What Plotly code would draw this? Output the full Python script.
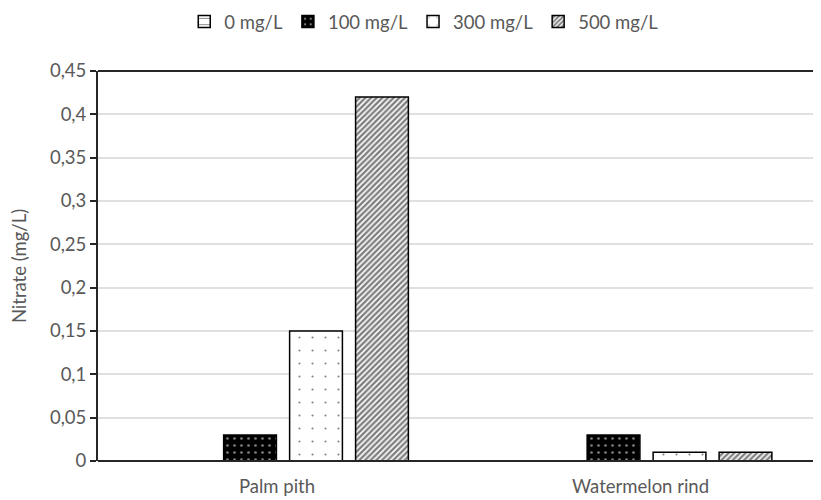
import plotly.graph_objects as go

categories = ["Palm pith", "Watermelon rind"]
series_names = ["0 mg/L", "100 mg/L", "300 mg/L", "500 mg/L"]
values_0 = [0, 0]
values_100 = [0.03, 0.03]
values_300 = [0.15, 0.01]
values_500 = [0.42, 0.01]
tick_vals = [0, 0.05, 0.1, 0.15, 0.2, 0.25, 0.3, 0.35, 0.4, 0.45]
tick_text = ["0", "0,05", "0,1", "0,15", "0,2", "0,25", "0,3", "0,35", "0,4", "0,45"]

FONT = "Lato"
GRAY = "#595959"
AXIS = "#262626"
FS = 18.5

patterns = [
    dict(shape="-", bgcolor="white", fgcolor="black", size=8, solidity=0.15),
    dict(shape=".", bgcolor="black", fgcolor="white", size=7, solidity=0.12),
    dict(shape=".", bgcolor="white", fgcolor="black", size=13, solidity=0.02),
    dict(shape="/", bgcolor="white", fgcolor="black", size=4, solidity=0.6),
]

fig = go.Figure()
for name, vals, pat in zip(series_names, [values_0, values_100, values_300, values_500], patterns):
    fig.add_trace(go.Bar(
        x=categories, y=vals, name=name,
        marker=dict(color="white", pattern=pat, line=dict(color="black", width=1.5)),
    ))

# top and bottom frame lines drawn above the bars
for yy in (0, 1):
    fig.add_shape(type="line", xref="paper", yref="paper", x0=0, x1=1, y0=yy, y1=yy,
                  line=dict(color=AXIS, width=2), layer="above")

fig.update_layout(
    width=821, height=500,
    margin=dict(l=90, r=8, t=63, b=47),
    paper_bgcolor="white", plot_bgcolor="white",
    barmode="group", bargap=0.274, bargroupgap=0.2,
    font=dict(family=FONT, size=FS, color=GRAY),
    showlegend=True,
    legend=dict(orientation="h", x=0.507, xref="container", xanchor="center",
                y=0.972, yref="container", yanchor="middle",
                font=dict(family=FONT, size=FS, color=GRAY),
                itemwidth=30, tracegroupgap=0),
    xaxis=dict(range=[-0.509, 1.48], showline=False, ticks="", showgrid=False,
               ticklabelshift=-6, ticklabelstandoff=12,
               tickfont=dict(family=FONT, size=FS, color=GRAY)),
    yaxis=dict(range=[0, 0.45], tickvals=tick_vals, ticktext=tick_text,
               showline=True, linecolor=AXIS, linewidth=2,
               ticks="outside", ticklen=6, tickcolor=AXIS, tickwidth=1.5,
               showgrid=True, gridcolor="#e0e0e0", gridwidth=1.5, zeroline=False,
               title=dict(text="Nitrate (mg/L)", standoff=22,
                          font=dict(family=FONT, size=FS, color=GRAY)),
               tickfont=dict(family=FONT, size=FS, color=GRAY)),
)

fig.write_html("out.html")
